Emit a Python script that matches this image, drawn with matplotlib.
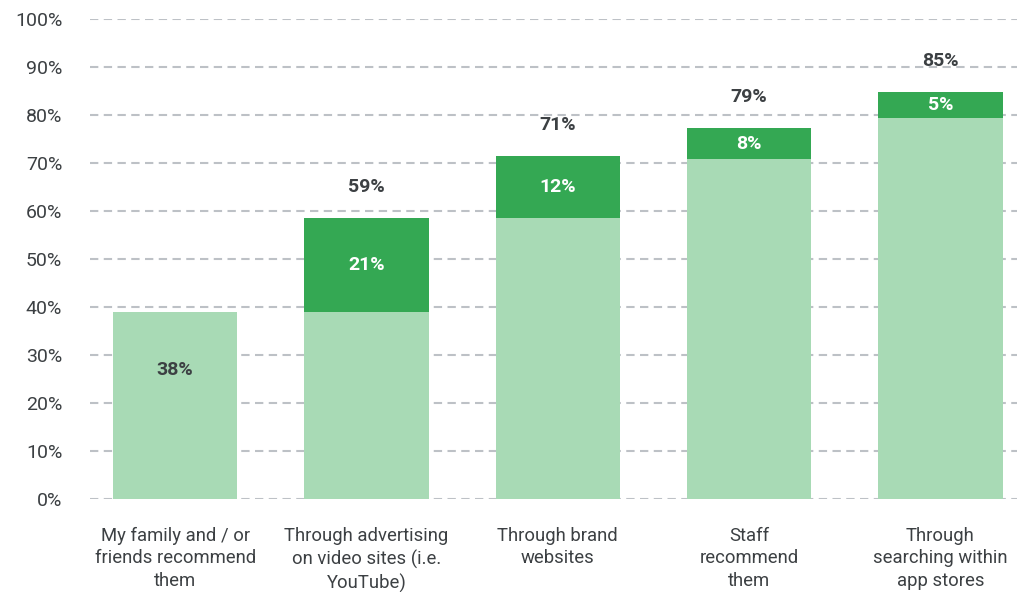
import matplotlib.pyplot as plt
import numpy as np

# Data
categories = [
    "My family and / or\nfriends recommend\nthem",
    "Through advertising\non video sites (i.e.\nYouTube)",
    "Through brand\nwebsites",
    "Staff\nrecommend\nthem",
    "Through\nsearching within\napp stores",
]
base = [39.0, 39.0, 58.6, 70.8, 79.4]
increment = [0.0, 19.6, 12.9, 6.5, 5.4]
total_labels = ["38%", "59%", "71%", "79%", "85%"]
increment_labels = ["", "21%", "12%", "8%", "5%"]

light = "#a8dab5"
dark = "#34a853"
text_col = "#3c4043"

plt.rcParams["font.family"] = ["Roboto", "DejaVu Sans"]

fig = plt.figure(figsize=(10.17, 5.92), dpi=100)
ax = fig.add_axes([90 / 1017, 93 / 592, 927 / 1017, 480 / 592])

x = np.arange(len(categories))
ax.bar(x, base, width=0.65, color=light, zorder=2)
ax.bar(x, increment, width=0.65, bottom=base, color=dark, zorder=2)

for i in range(len(categories)):
    top = base[i] + increment[i]
    if increment[i] > 0:
        ax.text(x[i], base[i] + increment[i] / 2, increment_labels[i], ha="center",
                va="center", color="white", fontsize=14, fontweight="bold", zorder=3)
        ax.annotate(total_labels[i], (x[i], top), xytext=(0, 22), textcoords="offset points",
                    ha="center", va="center", color=text_col, fontsize=14, fontweight="bold")
    else:
        ax.text(x[i], top * 0.69, total_labels[i], ha="center", va="center",
                color=text_col, fontsize=14, fontweight="bold", zorder=3)

ax.set_ylim(0, 100)
ax.set_xlim(-0.445, 4.40)
ax.set_yticks(np.arange(0, 101, 10))
ax.set_yticklabels([f"{v}%" for v in range(0, 101, 10)])
ax.set_xticks(x)
ax.set_xticklabels(categories, fontsize=13.3, linespacing=1.32, color=text_col)
ax.tick_params(axis="y", length=0, pad=20, labelsize=14, labelcolor=text_col)
ax.tick_params(axis="x", length=0, pad=20)
ax.yaxis.grid(True, color="#bdc1c6", linewidth=1.5, linestyle=(0, (4, 2.6)), zorder=0)
for s in ax.spines.values():
    s.set_visible(False)

fig.savefig("out.png", dpi=100)
